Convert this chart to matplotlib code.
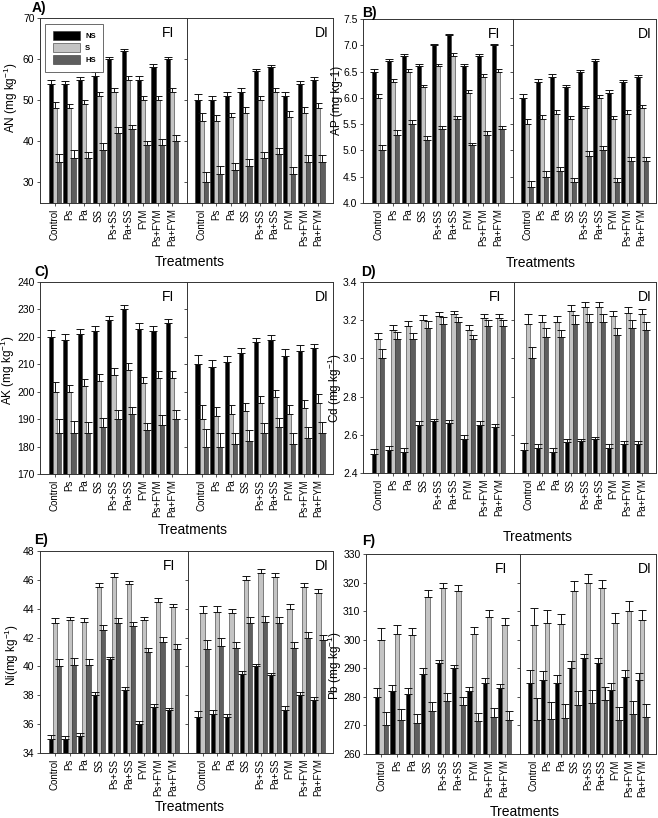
import matplotlib
matplotlib.use("Agg")
import matplotlib.pyplot as plt
import numpy as np

plt.rcParams['font.family'] = ['Liberation Sans', 'DejaVu Sans']
plt.rcParams['mathtext.default'] = 'regular'

treatments = ['Control', 'Ps', 'Pa', 'SS', 'Ps+SS', 'Pa+SS', 'FYM', 'Ps+FYM', 'Pa+FYM']
levels = ['NS', 'S', 'HS']

# ---- A) AN ----
an_fi_ns = [54, 54, 55, 56, 60, 62, 55, 58, 60]
an_fi_s = [48, 48, 49, 51, 52, 55, 50, 50, 52]
an_fi_hs = [35, 36, 36, 38, 42, 43, 39, 39, 40]
an_fi_ns_err = [1.0, 0.7, 0.7, 0.8, 0.5, 0.5, 0.8, 0.7, 0.6]
an_fi_s_err = [1.5, 1.0, 1.0, 1.0, 1.0, 1.0, 1.0, 1.0, 1.0]
an_fi_hs_err = [2.0, 1.8, 1.5, 1.5, 1.5, 1.0, 1.0, 1.5, 1.5]
an_di_ns = [50, 50, 51, 52, 57, 58, 51, 54, 55]
an_di_s = [45, 45, 46, 47, 50, 52, 46, 47, 48]
an_di_hs = [30, 32, 33, 34, 36, 37, 32, 35, 35]
an_di_ns_err = [1.5, 1.0, 1.0, 1.0, 0.5, 0.5, 1.0, 0.7, 0.7]
an_di_s_err = [2.0, 1.5, 1.0, 1.3, 1.0, 1.0, 1.3, 1.3, 1.3]
an_di_hs_err = [2.5, 2.0, 1.7, 1.8, 1.5, 1.5, 1.7, 1.6, 1.7]

# ---- B) AP ----
ap_fi_ns = [6.5, 6.7, 6.8, 6.6, 7.0, 7.2, 6.6, 6.8, 7.0]
ap_fi_s = [6.0, 6.3, 6.5, 6.2, 6.6, 6.8, 6.1, 6.4, 6.5]
ap_fi_hs = [5.0, 5.3, 5.5, 5.2, 5.4, 5.6, 5.1, 5.3, 5.4]
ap_fi_ns_err = [0.05, 0.04, 0.04, 0.04, 0.03, 0.02, 0.04, 0.04, 0.03]
ap_fi_s_err = [0.08, 0.06, 0.05, 0.05, 0.05, 0.05, 0.05, 0.05, 0.05]
ap_fi_hs_err = [0.10, 0.09, 0.08, 0.07, 0.07, 0.06, 0.05, 0.07, 0.07]
ap_di_ns = [6.0, 6.3, 6.4, 6.2, 6.5, 6.7, 6.1, 6.3, 6.4]
ap_di_s = [5.5, 5.6, 5.7, 5.6, 5.8, 6.0, 5.6, 5.7, 5.8]
ap_di_hs = [4.3, 4.5, 4.6, 4.4, 4.9, 5.0, 4.4, 4.8, 4.8]
ap_di_ns_err = [0.08, 0.05, 0.05, 0.05, 0.03, 0.03, 0.05, 0.04, 0.04]
ap_di_s_err = [0.10, 0.08, 0.06, 0.06, 0.05, 0.05, 0.06, 0.06, 0.06]
ap_di_hs_err = [0.12, 0.10, 0.08, 0.08, 0.08, 0.08, 0.08, 0.08, 0.08]

# ---- C) AK ----
ak_fi_ns = [220, 219, 221, 222, 226, 230, 223, 222, 225]
ak_fi_s = [200, 200, 202, 204, 206, 208, 203, 205, 205]
ak_fi_hs = [185, 185, 185, 187, 190, 192, 186, 188, 190]
ak_fi_ns_err = [2.5, 2.0, 2.0, 2.0, 1.5, 1.5, 2.0, 2.0, 1.5]
ak_fi_s_err = [3.5, 2.5, 2.5, 2.5, 2.5, 2.5, 2.5, 2.5, 2.5]
ak_fi_hs_err = [5.0, 4.5, 4.0, 3.5, 3.5, 2.5, 2.5, 3.5, 3.5]
ak_di_ns = [210, 209, 211, 214, 218, 219, 213, 215, 216]
ak_di_s = [190, 191, 192, 193, 196, 198, 192, 194, 196]
ak_di_hs = [180, 180, 181, 182, 185, 187, 181, 183, 185]
ak_di_ns_err = [3.5, 2.5, 2.0, 2.0, 1.5, 1.5, 2.5, 2.0, 1.5]
ak_di_s_err = [5.0, 3.5, 3.0, 3.0, 2.5, 2.5, 3.0, 3.0, 3.0]
ak_di_hs_err = [6.5, 5.0, 4.0, 4.0, 3.5, 3.5, 4.0, 4.0, 4.0]

# ---- D) Cd ----
cd_fi_ns = [2.50, 2.52, 2.51, 2.65, 2.67, 2.66, 2.58, 2.65, 2.64]
cd_fi_s = [3.10, 3.15, 3.17, 3.20, 3.22, 3.23, 3.15, 3.21, 3.21]
cd_fi_hs = [3.00, 3.10, 3.10, 3.16, 3.18, 3.19, 3.10, 3.17, 3.17]
cd_fi_ns_err = [0.025, 0.02, 0.02, 0.02, 0.015, 0.015, 0.02, 0.02, 0.015]
cd_fi_s_err = [0.035, 0.025, 0.025, 0.025, 0.025, 0.02, 0.025, 0.02, 0.02]
cd_fi_hs_err = [0.05, 0.04, 0.035, 0.035, 0.035, 0.025, 0.025, 0.03, 0.03]
cd_di_ns = [2.52, 2.53, 2.51, 2.56, 2.57, 2.58, 2.53, 2.55, 2.55]
cd_di_s = [3.18, 3.19, 3.19, 3.25, 3.27, 3.27, 3.22, 3.24, 3.23]
cd_di_hs = [3.00, 3.11, 3.11, 3.18, 3.19, 3.19, 3.12, 3.16, 3.15]
cd_di_ns_err = [0.035, 0.02, 0.02, 0.02, 0.01, 0.01, 0.02, 0.015, 0.015]
cd_di_s_err = [0.05, 0.035, 0.03, 0.03, 0.025, 0.025, 0.03, 0.03, 0.03]
cd_di_hs_err = [0.06, 0.05, 0.04, 0.045, 0.04, 0.04, 0.04, 0.04, 0.04]

# ---- E) Ni ----
ni_fi_ns = [35.0, 35.0, 35.2, 38.0, 40.5, 38.4, 36.0, 37.2, 37.0]
ni_fi_s = [43.0, 43.2, 43.1, 45.5, 46.2, 45.7, 43.2, 44.5, 44.1]
ni_fi_hs = [40.0, 40.1, 40.1, 42.5, 43.0, 42.8, 41.0, 41.7, 41.2]
ni_fi_ns_err = [0.25, 0.2, 0.2, 0.2, 0.15, 0.15, 0.2, 0.2, 0.15]
ni_fi_s_err = [0.35, 0.25, 0.25, 0.25, 0.25, 0.25, 0.25, 0.25, 0.25]
ni_fi_hs_err = [0.5, 0.45, 0.4, 0.35, 0.35, 0.25, 0.25, 0.35, 0.35]
ni_di_ns = [36.5, 36.7, 36.5, 39.5, 40.0, 39.4, 37.0, 38.0, 37.7]
ni_di_s = [43.7, 43.8, 43.7, 46.0, 46.5, 46.2, 44.0, 45.5, 45.1]
ni_di_hs = [41.2, 41.4, 41.3, 43.0, 43.1, 43.0, 41.3, 42.0, 41.8]
ni_di_ns_err = [0.4, 0.25, 0.2, 0.2, 0.15, 0.15, 0.25, 0.2, 0.15]
ni_di_s_err = [0.5, 0.4, 0.3, 0.3, 0.25, 0.25, 0.3, 0.3, 0.3]
ni_di_hs_err = [0.65, 0.55, 0.4, 0.45, 0.4, 0.4, 0.4, 0.4, 0.4]

# ---- F) Pb ----
pb_fi_ns = [280, 282, 281, 288, 292, 290, 282, 285, 283]
pb_fi_s = [300, 302, 301.5, 315, 318, 317, 302, 308, 305]
pb_fi_hs = [270, 272, 271, 275, 278.5, 277, 271.5, 273, 272]
pb_fi_ns_err = [3, 2, 2, 2, 1, 1, 1.5, 1.5, 1.5]
pb_fi_s_err = [4, 3, 2.5, 2.5, 2, 2, 2.5, 2.5, 2.5]
pb_fi_hs_err = [4.8, 3.8, 3, 3.3, 3, 3, 3, 3, 3]
pb_di_ns = [285, 286, 285, 290, 293.5, 292, 282.5, 287, 286]
pb_di_s = [305, 306, 305.5, 317, 320, 318, 306, 310, 307]
pb_di_hs = [272, 272.2, 272.5, 277, 278, 279, 272, 274, 273]
pb_di_ns_err = [4.5, 3, 2.5, 2.5, 1.5, 1.5, 2.5, 2.5, 2.5]
pb_di_s_err = [6, 4.5, 3.5, 3.5, 3, 3, 3.5, 3.5, 3.5]
pb_di_hs_err = [7.5, 6, 5, 5, 4.5, 4.5, 4.5, 4.5, 4.5]

colors = ['#000000', '#c4c4c4', '#5e5e5e']

W, H = 658, 818
fig = plt.figure(figsize=(W / 100, H / 100), dpi=100)


def add_ax(x0, x1, ytop, ybot):
    return fig.add_axes([x0 / W, 1 - ybot / H, (x1 - x0) / W, (ybot - ytop) / H])


def draw_half(ax, series, errs, ylim, yticks, show_labels, tag, legend=False):
    x = np.arange(len(treatments))
    bw = 0.28
    handles = []
    for i, (vals, err) in enumerate(zip(series, errs)):
        xs = x + (i - 1) * bw
        b = ax.bar(xs, np.array(vals) - ylim[0], bw, bottom=ylim[0], color=colors[i],
                   edgecolor='#303030', linewidth=0.4, label=levels[i], zorder=2)
        handles.append(b)
        ax.errorbar(xs, vals, yerr=[np.zeros(len(err)), err], fmt='none', ecolor='#111111',
                    elinewidth=0.7, capsize=2.6, capthick=0.7, zorder=3)
    ax.set_xlim(-1, 9)
    ax.set_ylim(*ylim)
    ax.set_yticks(yticks)
    ax.set_xticks(x)
    ax.set_xticklabels(treatments, rotation=90, fontsize=7)
    ax.tick_params(axis='both', direction='out', length=2.5, width=0.6, color='#333333', pad=1.5)
    ax.tick_params(axis='y', labelsize=7.5)
    if not show_labels:
        ax.set_yticklabels([])
    for s in ax.spines.values():
        s.set_linewidth(0.7)
        s.set_color('#333333')
    ax.annotate(tag, xy=(1, 1), xycoords='axes fraction', xytext=(-3 if tag == 'DI' else -9, -6),
                textcoords='offset points', ha='right', va='top', fontsize=10)
    if legend:
        leg = ax.legend(handles=handles, loc='upper left', bbox_to_anchor=(0.01, 0.99),
                        prop={'weight': 'bold', 'size': 5.5}, frameon=True, fancybox=False,
                        edgecolor='#444444', handlelength=3.6, handleheight=1.4,
                        borderpad=1.0, labelspacing=0.4, handletextpad=0.6)
        leg.get_frame().set_linewidth(0.7)


panels = [
    dict(geo=(40, 187, 333, 18, 203), ylim=(25, 70), yt=[30, 40, 50, 60, 70],
         fi=(an_fi_ns, an_fi_s, an_fi_hs), fie=(an_fi_ns_err, an_fi_s_err, an_fi_hs_err),
         di=(an_di_ns, an_di_s, an_di_hs), die=(an_di_ns_err, an_di_s_err, an_di_hs_err),
         letter=('A)', 32, 8), ylab=('AN (mg kg$^{-1}$)', 11, 98), xlab=(190, 262), legend=True),
    dict(geo=(363, 513, 656, 19, 203), ylim=(4.0, 7.5), yt=[4.0, 4.5, 5.0, 5.5, 6.0, 6.5, 7.0, 7.5],
         fi=(ap_fi_ns, ap_fi_s, ap_fi_hs), fie=(ap_fi_ns_err, ap_fi_s_err, ap_fi_hs_err),
         di=(ap_di_ns, ap_di_s, ap_di_hs), die=(ap_di_ns_err, ap_di_s_err, ap_di_hs_err),
         letter=('B)', 362, 13), ylab=('AP (mg kg-1)', 337, 100), xlab=(541, 263), legend=False),
    dict(geo=(40, 187, 333, 282, 474), ylim=(170, 240), yt=[170, 180, 190, 200, 210, 220, 230, 240],
         fi=(ak_fi_ns, ak_fi_s, ak_fi_hs), fie=(ak_fi_ns_err, ak_fi_s_err, ak_fi_hs_err),
         di=(ak_di_ns, ak_di_s, ak_di_hs), die=(ak_di_ns_err, ak_di_s_err, ak_di_hs_err),
         letter=('C)', 34, 272), ylab=('AK (mg kg$^{-1}$)', 8, 370), xlab=(193, 530), legend=False),
    dict(geo=(363, 514, 656, 282, 473), ylim=(2.4, 3.4), yt=[2.4, 2.6, 2.8, 3.0, 3.2, 3.4],
         fi=(cd_fi_ns, cd_fi_s, cd_fi_hs), fie=(cd_fi_ns_err, cd_fi_s_err, cd_fi_hs_err),
         di=(cd_di_ns, cd_di_s, cd_di_hs), die=(cd_di_ns_err, cd_di_s_err, cd_di_hs_err),
         letter=('D)', 361, 272), ylab=('Cd (mg kg$^{-1}$)', 335, 388), xlab=(538, 537), legend=False),
    dict(geo=(40, 188, 333, 551, 753), ylim=(34, 48), yt=[34, 36, 38, 40, 42, 44, 46, 48],
         fi=(ni_fi_ns, ni_fi_s, ni_fi_hs), fie=(ni_fi_ns_err, ni_fi_s_err, ni_fi_hs_err),
         di=(ni_di_ns, ni_di_s, ni_di_hs), die=(ni_di_ns_err, ni_di_s_err, ni_di_hs_err),
         letter=('E)', 34, 540), ylab=('Ni(mg kg$^{-1}$)', 12, 655), xlab=(190, 807), legend=False),
    dict(geo=(366, 520, 656, 554, 754), ylim=(260, 330), yt=[260, 270, 280, 290, 300, 310, 320, 330],
         fi=(pb_fi_ns, pb_fi_s, pb_fi_hs), fie=(pb_fi_ns_err, pb_fi_s_err, pb_fi_hs_err),
         di=(pb_di_ns, pb_di_s, pb_di_hs), die=(pb_di_ns_err, pb_di_s_err, pb_di_hs_err),
         letter=('F)', 362, 541), ylab=('Pb (mg kg$^{-1}$)', 335, 666), xlab=(525, 812), legend=False),
]

for p in panels:
    x0, xd, x1, yt_, yb = p['geo']
    ax1 = add_ax(x0, xd, yt_, yb)
    ax2 = add_ax(xd, x1, yt_, yb)
    draw_half(ax1, p['fi'], p['fie'], p['ylim'], p['yt'], True, 'FI', legend=p['legend'])
    draw_half(ax2, p['di'], p['die'], p['ylim'], p['yt'], False, 'DI')
    lt, lx, ly = p['letter']
    fig.text(lx / W, 1 - ly / H, lt, fontsize=10, fontweight='bold', ha='left', va='center')
    yl, yx, yy = p['ylab']
    fig.text(yx / W, 1 - yy / H, yl, fontsize=8.5, rotation=90, ha='center', va='center')
    tx, ty = p['xlab']
    fig.text(tx / W, 1 - ty / H, 'Treatments', fontsize=10, ha='center', va='center')

fig.savefig('out.png', dpi=100)
